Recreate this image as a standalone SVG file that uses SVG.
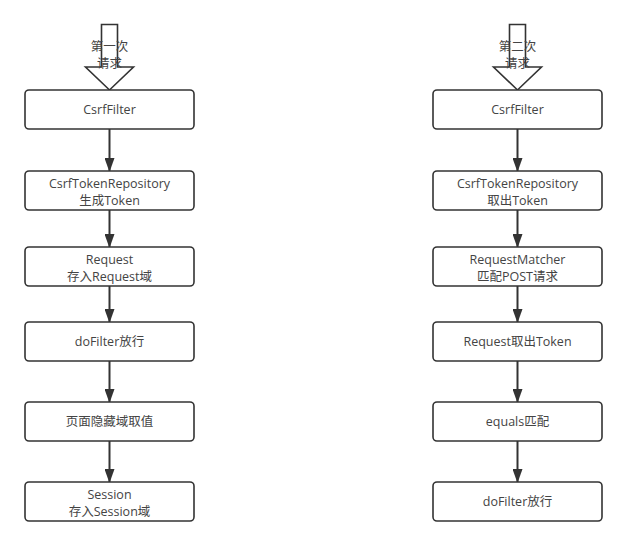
<svg xmlns="http://www.w3.org/2000/svg" width="628" height="545" viewBox="0 0 628 545">
<style>
.box{fill:#fff;stroke:#333;stroke-width:1.6}
.blk{fill:#fff;stroke:#333;stroke-width:1.6}
.t{font-family:"Open Sans","Noto Sans CJK SC",sans-serif;font-size:12.5px;fill:#444;text-anchor:middle}
.c{stroke:#333;stroke-width:2;fill:none;marker-end:url(#ah)}
</style>
<defs>
<marker id="ah" markerWidth="14" markerHeight="10" refX="13" refY="5" orient="auto" markerUnits="userSpaceOnUse" viewBox="0 0 14 10">
<path d="M0,0 L14,5 L0,10 Z" fill="#333"/>
</marker>
</defs>
<g id="connectors">
<path class="c" d="M109.5,129 V171"/>
<path class="c" d="M109.5,210 V247"/>
<path class="c" d="M109.5,286 V322"/>
<path class="c" d="M109.5,361 V402"/>
<path class="c" d="M109.5,441 V482"/>
<path class="c" d="M517.5,129 V171"/>
<path class="c" d="M517.5,210 V247"/>
<path class="c" d="M517.5,286 V322"/>
<path class="c" d="M517.5,361 V402"/>
<path class="c" d="M517.5,441 V482"/>
</g>
<g id="req1">
<path class="blk" d="M101.5,24.5 H117.5 V67 H133.5 L109.5,90 L85.5,67 H101.5 Z"/>
<text class="t" x="109.5" y="51">第一次</text>
<text class="t" x="109.5" y="68">请求</text>
</g>
<g id="req2">
<path class="blk" d="M509.5,24.5 H525.5 V67 H541.5 L517.5,90 L493.5,67 H509.5 Z"/>
<text class="t" x="517.5" y="51">第二次</text>
<text class="t" x="517.5" y="68">请求</text>
</g>
<g id="l1"><rect class="box" x="25" y="90" width="169" height="39" rx="4"/><text class="t" x="109.5" y="114">CsrfFilter</text></g>
<g id="l2"><rect class="box" x="25" y="171" width="169" height="39" rx="4"/><text class="t" x="109.5" y="188">CsrfTokenRepository</text><text class="t" x="109.5" y="205">生成Token</text></g>
<g id="l3"><rect class="box" x="25" y="247" width="169" height="39" rx="4"/><text class="t" x="109.5" y="264">Request</text><text class="t" x="109.5" y="281">存入Request域</text></g>
<g id="l4"><rect class="box" x="25" y="322" width="169" height="39" rx="4"/><text class="t" x="109.5" y="346">doFilter放行</text></g>
<g id="l5"><rect class="box" x="25" y="402" width="169" height="39" rx="4"/><text class="t" x="109.5" y="426">页面隐藏域取值</text></g>
<g id="l6"><rect class="box" x="25" y="482" width="169" height="39" rx="4"/><text class="t" x="109.5" y="499">Session</text><text class="t" x="109.5" y="516">存入Session域</text></g>
<g id="r1"><rect class="box" x="433" y="90" width="169" height="39" rx="4"/><text class="t" x="517.5" y="114">CsrfFilter</text></g>
<g id="r2"><rect class="box" x="433" y="171" width="169" height="39" rx="4"/><text class="t" x="517.5" y="188">CsrfTokenRepository</text><text class="t" x="517.5" y="205">取出Token</text></g>
<g id="r3"><rect class="box" x="433" y="247" width="169" height="39" rx="4"/><text class="t" x="517.5" y="264">RequestMatcher</text><text class="t" x="517.5" y="281">匹配POST请求</text></g>
<g id="r4"><rect class="box" x="433" y="322" width="169" height="39" rx="4"/><text class="t" x="517.5" y="346">Request取出Token</text></g>
<g id="r5"><rect class="box" x="433" y="402" width="169" height="39" rx="4"/><text class="t" x="517.5" y="426">equals匹配</text></g>
<g id="r6"><rect class="box" x="433" y="482" width="169" height="39" rx="4"/><text class="t" x="517.5" y="506">doFilter放行</text></g>
</svg>
